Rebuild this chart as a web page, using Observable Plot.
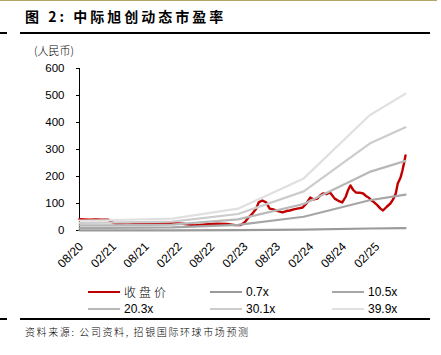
<!DOCTYPE html>
<html>
<head>
<meta charset="utf-8">
<script src="https://cdn.jsdelivr.net/npm/d3@7"></script>
<script src="https://cdn.jsdelivr.net/npm/@observablehq/plot@0.6"></script>
<style>
  body { margin:0; width:441px; height:355px; position:relative; background:#fff; overflow:hidden; font-family:"Liberation Sans", Arial, sans-serif; }
  .abs { position:absolute; }
  .cjk { font-family:"Noto Sans CJK SC", sans-serif; }
  .leg { position:absolute; font-size:12px; line-height:14px; white-space:nowrap; display:flex; align-items:center; }
  .sw { display:inline-block; width:32px; height:0; border-top:2.5px solid; margin-right:4px; }
</style>
</head>
<body>
<script>
// ---- data ----
const priceDates = ["2020-08-03","2020-09-01","2020-10-01","2020-11-01","2020-12-01","2021-01-10","2021-02-01","2021-03-01","2021-05-01","2021-07-01","2021-09-01","2021-11-01","2022-01-01","2022-03-01","2022-05-01","2022-07-01","2022-09-01","2022-11-01","2022-12-15","2023-01-15","2023-02-10","2023-03-01","2023-03-20","2023-04-10","2023-04-25","2023-05-15","2023-06-05","2023-06-25","2023-07-15","2023-08-01","2023-08-20","2023-09-05","2023-09-25","2023-10-15","2023-11-05","2023-11-25","2023-12-10","2023-12-25","2024-01-15","2024-02-05","2024-02-25","2024-03-15","2024-04-01","2024-04-15","2024-05-05","2024-05-25","2024-06-20","2024-07-10","2024-08-01","2024-08-20","2024-09-01","2024-09-15","2024-10-01","2024-10-15","2024-11-05","2024-11-25","2024-12-10","2024-12-25","2025-01-10","2025-01-25","2025-02-10","2025-03-01","2025-03-15","2025-04-05","2025-04-25","2025-05-10","2025-05-25","2025-06-05","2025-06-20","2025-07-01","2025-07-10","2025-07-18"];
const priceValues = [42,41,40,41,40,40,30,23,22,24,25,26,27,25,19,22,25,24,20,20,33,50,62,80,104,111,104,81,78,74,70,67,72,74,78,81,83,85,100,122,115,118,130,137,135,141,118,110,104,125,148,167,150,141,140,137,128,122,112,104,95,81,74,88,100,115,137,174,195,222,250,278];

const bandDates = ["2020-08-03","2020-12-31","2021-12-31","2022-12-31","2023-12-31","2024-12-31","2025-07-18"];
const bandNames = ["0.7x","10.5x","20.3x","30.1x","39.9x"];
const band07  = [0.65, 0.67, 0.77, 1.4, 3.4, 7.5, 8.9];
const band105 = [9.8, 10, 11.6, 21, 51, 112, 133];
const band203 = [19, 19, 22, 41, 98, 217, 258];
const band301 = [28, 29, 33, 61, 145, 322, 382];
const band399 = [37, 38, 44, 81, 193, 427, 507];
const bandColors = ["#9a9a9a","#a6a6a6","#b8b8b8","#cccccc","#e0e0e0"];
const priceName = "收盘价";
const priceColor = "#c00000";

const xTickDates = ["2020-08-01","2021-02-01","2021-08-01","2022-02-01","2022-08-01","2023-02-01","2023-08-01","2024-02-01","2024-08-01","2025-02-01"];
const yTicks = [0,100,200,300,400,500,600];

const titleText = "图 2: 中际旭创动态市盈率";
const unitText = "(人民币)";
const sourceText = "资料来源: 公司资料, 招银国际环球市场预测";
</script>

<div class="abs" style="left:0;top:0;width:437px;height:1px;background:#b3a66a"></div>
<div class="abs cjk" id="title" style="left:25px;top:7px;font-size:14px;font-weight:bold;letter-spacing:3px;line-height:18px;"></div>
<div class="abs" style="left:20px;top:32px;width:410px;height:2px;background:#000"></div>
<div class="abs" style="left:0;top:32px;width:7px;height:2px;background:#000"></div>
<div class="abs cjk" id="unit" style="left:34px;top:43px;font-size:11px;line-height:14px;font-weight:300;"></div>
<div class="abs" id="chart" style="left:0;top:0;"></div>
<div id="legend"></div>
<div class="abs" style="left:20px;top:318px;width:410px;height:2px;background:#000"></div>
<div class="abs" style="left:0;top:318px;width:7px;height:2px;background:#000"></div>
<div class="abs cjk" id="source" style="left:25px;top:325px;font-size:10px;letter-spacing:1.6px;line-height:14px;font-weight:300;"></div>

<script>
document.getElementById("title").textContent = titleText;
document.getElementById("unit").textContent = unitText;
document.getElementById("source").textContent = sourceText;

const parse = d3.utcParse("%Y-%m-%d");
const price = priceDates.map((d,i) => ({date: parse(d), value: priceValues[i]}));
const bandArrays = [band07, band105, band203, band301, band399];
const bands = [];
bandNames.forEach((n,k) => bandDates.forEach((d,i) => bands.push({date: parse(d), value: bandArrays[k][i], band: n})));

const xStart = parse(priceDates[0]);
const xEnd = parse(priceDates[priceDates.length-1]);

const chart = Plot.plot({
  width: 441,
  height: 285,
  marginLeft: 79,
  marginRight: 36,
  marginTop: 68,
  marginBottom: 55,
  style: {fontFamily: "'Liberation Sans', Arial, sans-serif", fontSize: "11.5px", color: "#000", background: "transparent", overflow: "visible"},
  x: {type: "utc", domain: [xStart, xEnd]},
  y: {domain: [0, 600]},
  color: {domain: bandNames, range: bandColors},
  marks: [
    Plot.ruleX([xStart], {y1: 0, y2: 600, stroke: "#000", strokeWidth: 1}),
    Plot.axisY({ticks: yTicks, tickSize: 3, tickPadding: 12, label: null, stroke: "#000"}),
    Plot.axisX({ticks: xTickDates.map(parse), tickFormat: d3.utcFormat("%m/%y"), tickRotate: -45, tickSize: 0, tickPadding: 14, dx: 2, fontSize: 12, label: null}),
    Plot.line(price, {x: "date", y: "value", stroke: priceColor, strokeWidth: 2.4, curve: "linear"}),
    Plot.line(bands, {x: "date", y: "value", z: "band", stroke: "band", strokeWidth: 2.2}),
  ]
});
document.getElementById("chart").appendChild(chart);

// legend
const legendItems = [
  {name: priceName, color: priceColor, cjk: true},
  {name: bandNames[0], color: bandColors[0]},
  {name: bandNames[1], color: bandColors[1]},
  {name: bandNames[2], color: bandColors[2]},
  {name: bandNames[3], color: bandColors[3]},
  {name: bandNames[4], color: bandColors[4]},
];
const colX = [88, 210, 332];
const rowY = [285, 302];
const leg = document.getElementById("legend");
legendItems.forEach((it, i) => {
  const div = document.createElement("div");
  div.className = "leg";
  div.style.left = colX[i % 3] + "px";
  div.style.top = rowY[Math.floor(i / 3)] + "px";
  const sw = document.createElement("span");
  sw.className = "sw";
  sw.style.borderTopColor = it.color;
  const tx = document.createElement("span");
  tx.textContent = it.name;
  if (it.cjk) { tx.className = "cjk"; tx.style.letterSpacing = "3px"; tx.style.fontWeight = "300"; }
  div.appendChild(sw); div.appendChild(tx);
  leg.appendChild(div);
});
</script>
</body>
</html>
